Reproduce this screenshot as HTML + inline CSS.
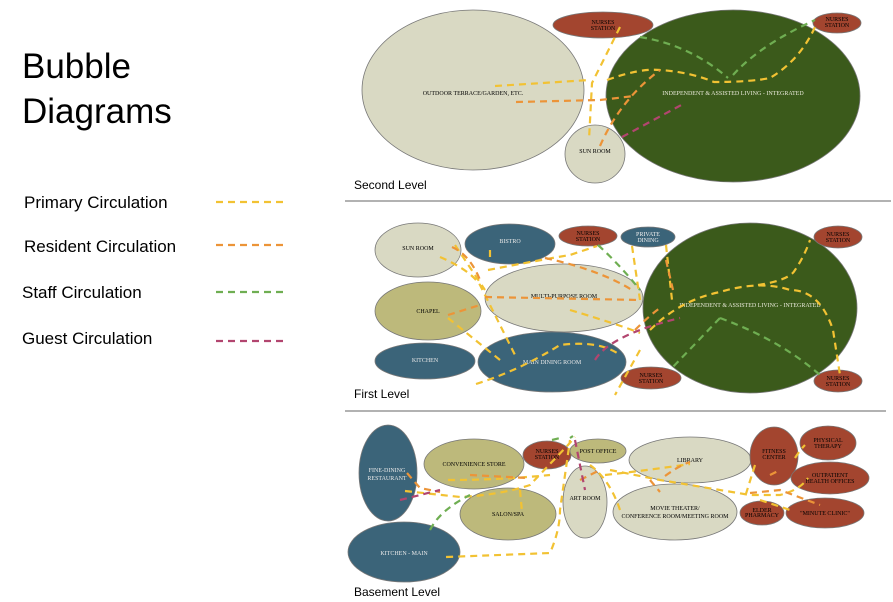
<!DOCTYPE html>
<html><head><meta charset="utf-8"><style>
html,body{margin:0;padding:0;background:#fff;}
svg{display:block;font-family:"Liberation Sans",sans-serif;}
.lbl{font-family:"Liberation Serif",serif;font-size:6px;text-anchor:middle;}
.y{stroke:#f2c233;stroke-width:2.2;fill:none;stroke-dasharray:7 5;}
.o{stroke:#ec9438;stroke-width:2.2;fill:none;stroke-dasharray:7 5;}
.g{stroke:#6fae52;stroke-width:2.2;fill:none;stroke-dasharray:7 5;}
.m{stroke:#b2456f;stroke-width:2.2;fill:none;stroke-dasharray:7 5;}
</style></head><body>
<svg width="893" height="602" viewBox="0 0 893 602" xmlns="http://www.w3.org/2000/svg">
<rect width="893" height="602" fill="#fff"/>
<text x="22" y="78" font-size="35">Bubble</text>
<text x="22" y="123" font-size="35">Diagrams</text>
<text x="24" y="208" font-size="17">Primary Circulation</text>
<text x="24" y="252" font-size="17">Resident Circulation</text>
<text x="22" y="298" font-size="17">Staff Circulation</text>
<text x="22" y="344" font-size="17">Guest Circulation</text>
<line x1="216" y1="202" x2="286" y2="202" class="y" stroke-dasharray="8 6"/>
<line x1="216" y1="245" x2="286" y2="245" class="o" stroke-dasharray="8 6"/>
<line x1="216" y1="292" x2="286" y2="292" class="g" stroke-dasharray="8 6"/>
<line x1="216" y1="341" x2="286" y2="341" class="m" stroke-dasharray="8 6"/>

<!-- Second level -->
<g stroke="#777" stroke-width="0.8">
<ellipse cx="473" cy="90" rx="111" ry="80" fill="#d9d9c3"/>
<ellipse cx="603" cy="25" rx="50" ry="13" fill="#a3452f"/>
<ellipse cx="733" cy="96" rx="127" ry="86" fill="#3b5a1b"/>
<ellipse cx="837" cy="23" rx="24" ry="10" fill="#a3452f"/>
<ellipse cx="595" cy="154" rx="30" ry="29" fill="#d9d9c3"/>
</g>
<text class="lbl" x="473" y="95">OUTDOOR TERRACE/GARDEN, ETC.</text>
<text class="lbl" x="733" y="95" fill="#e8e8d8">INDEPENDENT &amp; ASSISTED LIVING - INTEGRATED</text>
<text class="lbl" x="603" y="24" font-size="5">NURSES</text><text class="lbl" x="603" y="30" font-size="5">STATION</text>
<text class="lbl" x="837" y="21" font-size="5">NURSES</text><text class="lbl" x="837" y="27" font-size="5">STATION</text>
<text class="lbl" x="595" y="153">SUN ROOM</text>
<path class="y" d="M495,86 L590,80 M620,27 L592,83 L589,140 M607,80 Q640,68 660,70 Q690,72 714,82 Q750,82 770,78 Q800,60 815,27"/>
<path class="g" d="M640,37 Q690,45 728,78 M733,75 Q760,45 815,20"/>
<path class="o" d="M516,102 L600,100 L634,96 M600,146 Q620,100 660,70"/>
<path class="m" d="M622,137 L685,103"/>
<text x="354" y="189" font-size="12">Second Level</text>
<line x1="345" y1="201" x2="891" y2="201" stroke="#666" stroke-width="1"/>

<!-- First level -->
<g stroke="#777" stroke-width="0.8">
<ellipse cx="418" cy="250" rx="43" ry="27" fill="#d9d9c3"/>
<ellipse cx="510" cy="244" rx="45" ry="20" fill="#3b6479"/>
<ellipse cx="588" cy="236" rx="29" ry="10" fill="#a3452f"/>
<ellipse cx="648" cy="237" rx="27" ry="10" fill="#3b6479"/>
<ellipse cx="750" cy="308" rx="107" ry="85" fill="#3b5a1b"/>
<ellipse cx="838" cy="237" rx="24" ry="11" fill="#a3452f"/>
<ellipse cx="428" cy="311" rx="53" ry="29" fill="#bdb97b"/>
<ellipse cx="564" cy="298" rx="79" ry="34" fill="#d9d9c3"/>
<ellipse cx="425" cy="361" rx="50" ry="18" fill="#3b6479"/>
<ellipse cx="552" cy="362" rx="74" ry="30" fill="#3b6479"/>
<ellipse cx="651" cy="378" rx="30" ry="11" fill="#a3452f"/>
<ellipse cx="838" cy="381" rx="24" ry="11" fill="#a3452f"/>
</g>
<text class="lbl" x="418" y="250">SUN ROOM</text>
<text class="lbl" x="510" y="243" fill="#e8e8e8">BISTRO</text>
<text class="lbl" x="588" y="235" font-size="5">NURSES</text><text class="lbl" x="588" y="241" font-size="5">STATION</text>
<text class="lbl" x="648" y="236" font-size="5" fill="#eee">PRIVATE</text><text class="lbl" x="648" y="242" font-size="5" fill="#eee">DINING</text>
<text class="lbl" x="838" y="236" font-size="5">NURSES</text><text class="lbl" x="838" y="242" font-size="5">STATION</text>
<text class="lbl" x="564" y="298">MULTI-PURPOSE ROOM</text>
<text class="lbl" x="750" y="307" fill="#e8e8d8">INDEPENDENT &amp; ASSISTED LIVING - INTEGRATED</text>
<text class="lbl" x="428" y="313">CHAPEL</text>
<text class="lbl" x="425" y="362" fill="#e8e8e8">KITCHEN</text>
<text class="lbl" x="552" y="364" fill="#e8e8e8">MAIN DINING ROOM</text>
<text class="lbl" x="651" y="377" font-size="5">NURSES</text><text class="lbl" x="651" y="383" font-size="5">STATION</text>
<text class="lbl" x="838" y="380" font-size="5">NURSES</text><text class="lbl" x="838" y="386" font-size="5">STATION</text>
<path class="y" d="M440,257 Q470,270 480,285 L515,355 M455,245 L485,290 M488,270 Q540,260 570,255 L597,246 M490,257 L490,250 M476,384 Q520,370 560,345 Q600,340 620,355 M570,310 Q620,325 640,333 M632,246 L640,300 M666,245 L672,300 M640,350 L615,395 M650,330 Q680,300 720,292 Q760,280 790,290 Q820,290 833,330 L840,375 M758,285 Q790,280 795,270 Q805,255 810,240 M448,318 L500,360"/>
<path class="o" d="M452,247 Q470,255 480,280 M485,297 L640,300 M545,258 Q600,270 632,290 M448,315 L480,305 M666,260 L673,290 M635,330 Q650,315 660,308"/>
<path class="g" d="M598,245 Q620,265 640,290 M720,318 L670,370 M720,318 Q780,340 820,375"/>
<path class="m" d="M595,360 Q610,335 680,318"/>
<text x="354" y="398" font-size="12">First Level</text>
<line x1="345" y1="411" x2="886" y2="411" stroke="#666" stroke-width="1"/>

<!-- Basement -->
<g stroke="#777" stroke-width="0.8">
<ellipse cx="388" cy="473" rx="29" ry="48" fill="#3b6479"/>
<ellipse cx="474" cy="464" rx="50" ry="25" fill="#bdb97b"/>
<ellipse cx="547" cy="455" rx="24" ry="14" fill="#a3452f"/>
<ellipse cx="598" cy="451" rx="28" ry="12" fill="#bdb97b"/>
<ellipse cx="690" cy="460" rx="61" ry="23" fill="#d9d9c3"/>
<ellipse cx="774" cy="456" rx="24" ry="29" fill="#a3452f"/>
<ellipse cx="828" cy="443" rx="28" ry="17" fill="#a3452f"/>
<ellipse cx="830" cy="478" rx="39" ry="16" fill="#a3452f"/>
<ellipse cx="508" cy="514" rx="48" ry="26" fill="#bdb97b"/>
<ellipse cx="585" cy="502" rx="22" ry="36" fill="#d9d9c3"/>
<ellipse cx="675" cy="512" rx="62" ry="28" fill="#d9d9c3"/>
<ellipse cx="762" cy="513" rx="22" ry="12" fill="#a3452f"/>
<ellipse cx="825" cy="513" rx="39" ry="15" fill="#a3452f"/>
<ellipse cx="404" cy="552" rx="56" ry="30" fill="#3b6479"/>
</g>
<text class="lbl" x="387" y="472" fill="#e8e8e8">FINE-DINING</text><text class="lbl" x="387" y="480" fill="#e8e8e8">RESTAURANT</text>
<text class="lbl" x="474" y="466">CONVENIENCE STORE</text>
<text class="lbl" x="547" y="453" font-size="5">NURSES</text><text class="lbl" x="547" y="459" font-size="5">STATION</text>
<text class="lbl" x="598" y="453">POST OFFICE</text>
<text class="lbl" x="690" y="462">LIBRARY</text>
<text class="lbl" x="774" y="453" font-size="5">FITNESS</text><text class="lbl" x="774" y="459" font-size="5">CENTER</text>
<text class="lbl" x="828" y="442" font-size="5">PHYSICAL</text><text class="lbl" x="828" y="448" font-size="5">THERAPY</text>
<text class="lbl" x="830" y="477" font-size="5">OUTPATIENT</text><text class="lbl" x="830" y="483" font-size="5">HEALTH OFFICES</text>
<text class="lbl" x="508" y="516">SALON/SPA</text>
<text class="lbl" x="585" y="500">ART ROOM</text>
<text class="lbl" x="675" y="510">MOVIE THEATER/</text><text class="lbl" x="675" y="518">CONFERENCE ROOM/MEETING ROOM</text>
<text class="lbl" x="762" y="512" font-size="4.5">ELDER</text><text class="lbl" x="762" y="517" font-size="4.5">PHARMACY</text>
<text class="lbl" x="825" y="515">"MINUTE CLINIC"</text>
<text class="lbl" x="404" y="555" fill="#e8e8e8" font-size="7">KITCHEN - MAIN</text>
<path class="y" d="M405,491 L460,497 Q500,495 530,485 L568,445 L575,437 M448,480 Q500,480 550,475 M446,557 Q500,555 550,553 Q560,530 560,510 L570,440 M590,465 Q610,480 620,510 M605,475 Q650,470 690,464 M610,470 L660,480 Q720,490 750,495 L780,495 Q800,490 808,478 M755,465 L745,497 M760,500 L790,510 M795,458 Q800,450 805,445 M520,490 L522,512"/>
<path class="o" d="M407,473 L420,488 L440,492 M470,475 L528,478 M580,480 L600,470 M650,480 L660,492 M665,476 Q680,465 690,462 M750,493 L780,490 L820,505 M770,475 L780,470"/>
<path class="g" d="M430,530 Q440,510 470,495 M552,440 L560,438 M570,438 L573,436"/>
<path class="m" d="M400,500 Q420,495 440,490 M575,440 L585,490"/>
<text x="354" y="596" font-size="12">Basement Level</text>
</svg>
</body></html>
